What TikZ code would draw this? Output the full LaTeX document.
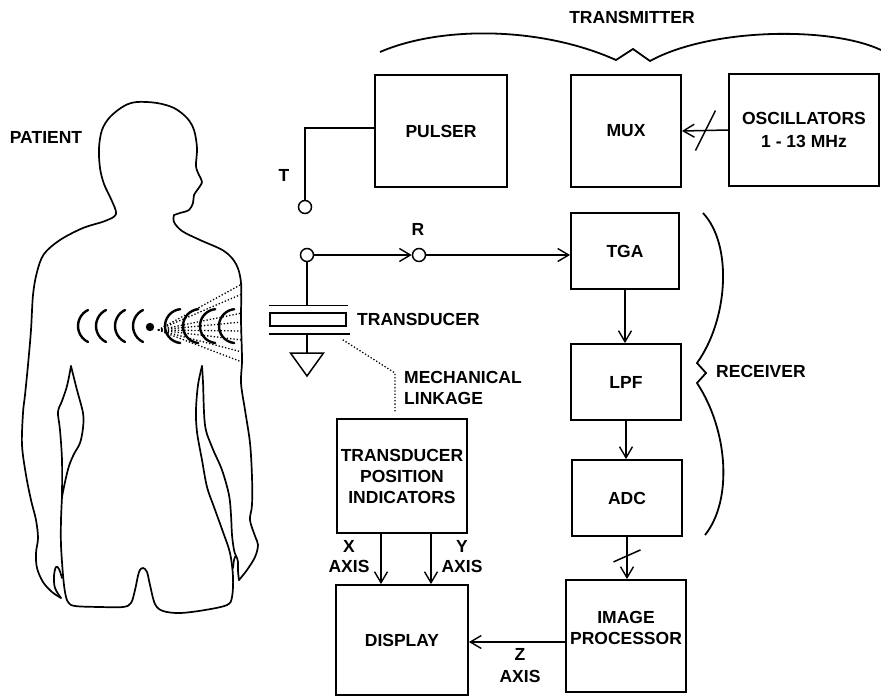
\documentclass[tikz,border=0pt]{standalone}
\usepackage{fontspec}
\setmainfont{Liberation Sans}
\usetikzlibrary{arrows.meta,calc}

\tikzset{
  every node/.append style={font=\bfseries\fontsize{17.5}{21}\selectfont},
  box/.style={draw, line width=1.9pt, inner sep=0pt, align=center},
  wire/.style={line width=1.5pt},
  arr/.style={wire, -{Straight Barb[length=11pt,width=13pt,line width=1.4pt]}},
  terminal/.style={circle, draw, line width=1.5pt, minimum size=13pt, inner sep=0pt},
  lbl/.style={align=center, inner sep=0pt},
  brace/.style={line width=1.8pt},
  outline/.style={line width=1.7pt, line join=round, line cap=round},
  ray/.style={line width=1.3pt, dotted},
  link/.style={line width=1.3pt, dotted},
  wave/.style={line width=2.4pt, line cap=round},
}

\begin{document}
\begin{tikzpicture}[x=1pt,y=-1pt]
\useasboundingbox (0,0) rectangle (881,696);
\fill[white] (0,0) rectangle (881,696);

% ---------------- blocks ----------------
\node[box, minimum width=132, minimum height=112] (pulser) at (441,131) {PULSER};
\node[box, minimum width=110, minimum height=112] (mux) at (626,131) {MUX};
\node[box, minimum width=150, minimum height=112, font=\bfseries\fontsize{17.5}{23}\selectfont]
     (osc) at (804,130) {OSCILLATORS\\1 - 13 MHz};
\node[box, minimum width=108, minimum height=76] (tga) at (625,251) {TGA};
\node[box, minimum width=110, minimum height=76] (lpf) at (626,382) {LPF};
\node[box, minimum width=110, minimum height=76] (adc) at (627,498) {ADC};
\node[box, minimum width=120, minimum height=112] (improc) at (626,636) {};
\node[lbl] (improctext) at ($(improc.center)+(0,-8)$) {IMAGE\\PROCESSOR};
\node[box, minimum width=130, minimum height=114] (tpi) at (402,476)
     {TRANSDUCER\\POSITION\\INDICATORS};
\node[box, minimum width=132, minimum height=110] (display) at (402,640) {DISPLAY};

% ---------------- labels ----------------
\node[lbl] (txlbl) at (632,17) {TRANSMITTER};
\node[lbl] (patlbl) at (46,137) {PATIENT};
\node[lbl] (tlbl) at (284,175) {T};
\node[lbl] (rlbl) at (418,229) {R};
\node[lbl, anchor=west] (tdlbl) at (357,319) {TRANSDUCER};
\node[lbl, anchor=west, align=left] (mechlbl) at (404,388) {MECHANICAL\\LINKAGE};
\node[lbl, anchor=west] (rxlbl) at (716,371) {RECEIVER};
\node[lbl, font=\bfseries\fontsize{17.5}{20}\selectfont] (xlbl) at (349,557) {X\\AXIS};
\node[lbl, font=\bfseries\fontsize{17.5}{20}\selectfont] (ylbl) at (462,557) {Y\\AXIS};
\node[lbl, font=\bfseries\fontsize{17.5}{22}\selectfont] (zlbl) at (520,666) {Z\\AXIS};

% ---------------- braces ----------------
\draw[brace] (380,52) .. controls (440,26) and (540,26) .. (616,60)
  -- (633,49) -- (650,61) .. controls (710,28) and (830,26) .. (881,50);
\draw[brace] (703,213) .. controls (733,245) and (728,320) .. (697,363)
  -- (706,373) -- (697,383) .. controls (728,430) and (733,500) .. (705,535);

% ---------------- switch terminals ----------------
\node[terminal] (tcirc) at (305,207) {};
\node[terminal] (lcirc) at (307,255) {};
\node[terminal] (rcirc) at (419,255) {};

\draw[wire] ([yshift=3pt]pulser.west) -| (tcirc.north);
\draw[arr] (lcirc.east) -- (rcirc.west);
\draw[arr] (rcirc.east) -- (rcirc.east -| tga.west);

% ---------------- transducer ----------------
\node[draw, line width=1.5pt, minimum width=76, minimum height=13, inner sep=0pt]
     (xducer) at (308,319.5) {};
\coordinate (tdtop) at ($(xducer.north)+(0,-7)$);
\coordinate (tdbot) at ($(xducer.south)+(0,7)$);
\draw[wire] ($(xducer.north west)+(0,-7)$) -- ($(xducer.north east)+(1,-7)$);
\draw[wire] ($(xducer.south west)+(0,7)$) -- ($(xducer.south east)+(3,7)$);
\draw[wire] (lcirc.south) -- (lcirc.south |- tdtop);
\coordinate (gnd) at (307,353);
\draw[wire] (lcirc.south |- tdbot) -- (gnd);
\draw[wire, line join=miter] ($(gnd)+(-16.5,0)$) -- ($(gnd)+(16.5,0)$) -- ($(gnd)+(0,23)$) -- cycle;

% mechanical linkage
\coordinate (lk1) at ($(xducer.south east)+(-4,13)$);
\coordinate (lk2) at (395,373);
\draw[link] (lk1) -- (lk2) -- ($(tpi.north)+(-7,-6)$);

% ---------------- signal chain ----------------
\draw[arr] (osc.west) -- (mux.east);
\coordinate (s1) at ($(osc.west)!0.49!(mux.east)$);
\draw[wire] ($(s1)+(-10,20)$) -- ($(s1)+(10,-20)$);

\draw[arr] (tga.south) -- (tga.south |- lpf.north);
\draw[arr] (lpf.south) -- (lpf.south |- adc.north);
\draw[arr] (adc.south) -- (adc.south |- improc.north);
\coordinate (s2) at ($(adc.south)!0.45!(adc.south |- improc.north)$);
\draw[wire] ($(s2)+(-13.5,6)$) -- ($(s2)+(13.5,-6)$);

\coordinate (xa) at ($(tpi.south)+(-21,0)$);
\coordinate (ya) at ($(tpi.south)+(29,0)$);
\draw[arr] (xa) -- (xa |- display.north);
\draw[arr] (ya) -- (ya |- display.north);
\coordinate (za) at ($(improc.west)+(0,6)$);
\draw[arr] (za) -- (za -| display.east);

% ---------------- patient outline ----------------
% left thumb
\draw[outline] plot[smooth, tension=0.6] coordinates
  {(62,578) (59,569) (56,567) (54,576) (55,588) (61,598)};
% left arm, shoulder, head and face
\draw[outline] plot[smooth, tension=0.55] coordinates
  {(61,598) (52,592) (43,582) (37,568) (36,553) (38,538) (36,520) (31,500)
   (26,475) (22,445) (23,413) (25,395) (28,365) (31,330) (33,295) (37,272)
   (44,254) (60,240) (83,228) (105,221) (116,214) (111,199) (104,184)
   (100,168) (99,148) (102,130) (110,117) (124,106) (137,102) (157,103)
   (174,108) (187,118) (194,130) (197,148) (196,166) (199,175) (202,182)
   (198,189) (194,195) (193,203) (189,210) (180,213) (174,215)};
% neck, right shoulder and right arm
\draw[outline] plot[smooth, tension=0.55] coordinates
  {(174,215) (174,222) (182,231) (200,240) (224,251) (236,264) (241,283)
   (241,320) (242,360) (241,383) (245,410) (250,443) (252,477) (252,505)
   (250,520) (255,536) (258,545) (255,557) (247,570) (239,580)};
% right thumb
\draw[outline] plot[smooth, tension=0.6] coordinates
  {(239,580) (238,571) (238,562) (236,556) (234,560) (233,568)};
% right torso, hips, left torso
\draw[outline] plot[smooth, tension=0.55] coordinates
  {(202,366) (198,385) (196,410) (197,432) (202,460) (207,487) (214,507)
   (223,532) (230,553) (233,577) (232,597) (227,605) (205,610) (180,613)
   (163,611) (155,604) (150,585) (147,572) (143,568) (139,572) (135,590)
   (131,603) (123,607) (100,607) (75,606) (68,602) (65,592) (63,575)
   (61,545) (61,520) (62,497)};
% right inner arm
\draw[outline] plot[smooth, tension=0.55] coordinates
  {(202,366) (203,382) (205,425) (212,447) (222,470) (229,495) (231,515)
   (232,535) (234,550) (236,556)};
% left inner arm and torso edge
\draw[outline] plot[smooth, tension=0.55] coordinates
  {(71,366) (67,386) (62,401) (58,412) (60,430) (62,460) (62,497)};
\draw[outline] plot[smooth, tension=0.55] coordinates
  {(71,366) (77,390) (83,413) (83,428) (80,443) (74,454) (69,466) (65,482) (62,497)};

% ---------------- ultrasound waves ----------------
\foreach \x in {78,96,115,133}
  \draw[wave] (\x+10,342) arc[start angle=116, end angle=244, radius=17.8];
\foreach \x in {165,183,200,219}
  \draw[wave] (\x+15.2,343) arc[start angle=96, end angle=264, radius=17];
\fill (150,327) circle (4.2);
\foreach \y in {284,294,313,322,331,340,352,362}
  \draw[ray] (158,330) -- (242,\y);

\end{tikzpicture}
\end{document}
